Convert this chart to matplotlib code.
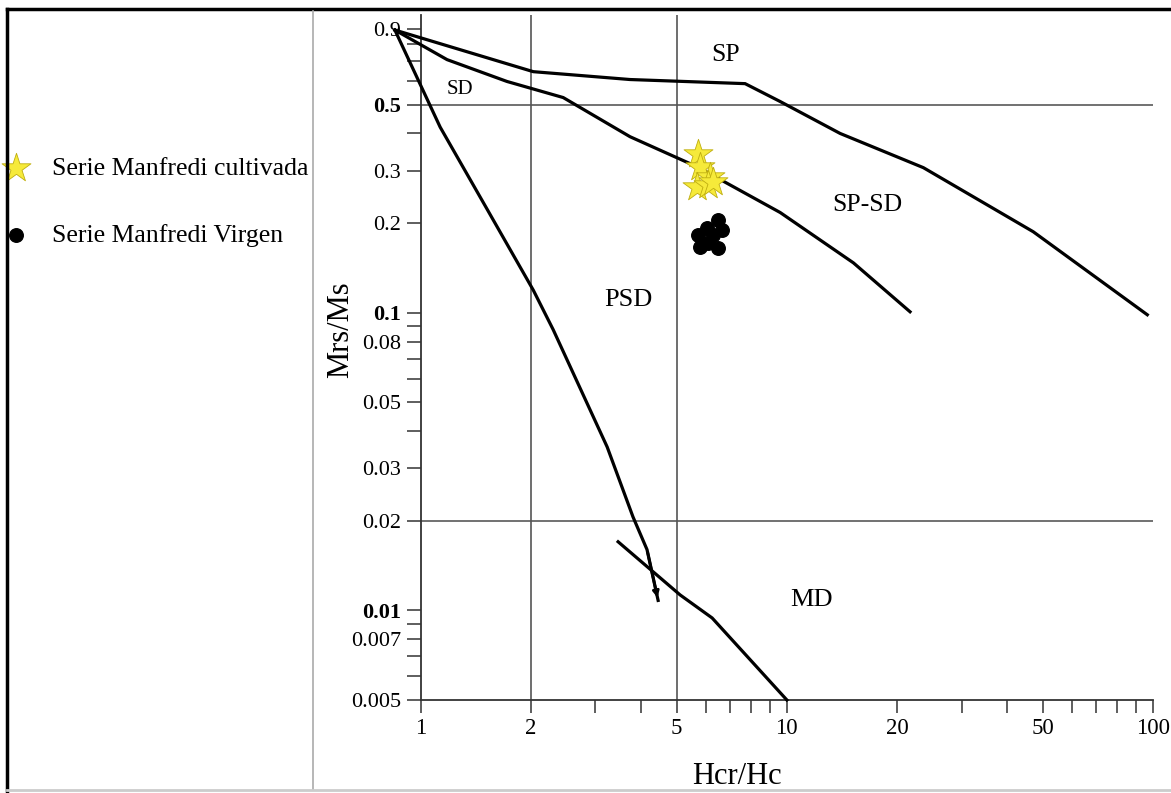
import numpy as np
import matplotlib
matplotlib.use("Agg")
import matplotlib.pyplot as plt
from matplotlib.lines import Line2D

plt.rcParams['font.family'] = ['Liberation Serif', 'DejaVu Serif']

# --- Curvas de los dominios (Hcr/Hc, Mrs/Ms) ---
curva_sd_x = [0.85, 1.13, 1.52, 2.03, 2.30, 3.23, 3.80, 4.15, 4.45]
curva_sd_y = [0.89, 0.42, 0.222, 0.119, 0.0877, 0.0354, 0.0206, 0.0160, 0.0108]

curva_md_x = [3.46, 5.11, 6.25, 10.0]
curva_md_y = [0.0170, 0.01127, 0.00943, 0.005]

curva_spsd_x = [0.85, 1.18, 1.72, 2.45, 3.73, 5.69, 9.59, 15.2, 21.7]
curva_spsd_y = [0.89, 0.708, 0.598, 0.528, 0.39, 0.309, 0.217, 0.147, 0.1007]

curva_sp_x = [0.85, 2.03, 3.73, 7.69, 9.59, 13.98, 23.6, 35.3, 47.1, 96.5]
curva_sp_y = [0.89, 0.645, 0.607, 0.588, 0.512, 0.40, 0.307, 0.23, 0.187, 0.0984]

# --- Muestras ---
cultivada_x = [5.72, 5.80, 6.17, 5.69, 6.10, 6.29]
cultivada_y = [0.34, 0.309, 0.286, 0.265, 0.269, 0.275]

virgen_x = [5.72, 6.06, 6.49, 6.66, 5.80, 6.10, 6.49, 6.29]
virgen_y = [0.183, 0.193, 0.205, 0.19, 0.1667, 0.172, 0.165, 0.182]

# --- Etiquetas de regiones ---
regiones = ["SP", "SD", "SP-SD", "PSD", "MD"]
regiones_x = [6.78, 1.28, 16.6, 3.69, 11.7]
regiones_y = [0.736, 0.56, 0.23, 0.11, 0.0108]
regiones_tam = [18.5, 15, 18.5, 19, 19]

# --- Ejes ---
xticks = [1, 2, 5, 10, 20, 50, 100]
xtick_labels = ["1", "2", "5", "10", "20", "50", "100"]
yticks = [0.9, 0.5, 0.3, 0.2, 0.1, 0.08, 0.05, 0.03, 0.02, 0.01, 0.008, 0.005]
ytick_labels = ["0.9", "0.5", "0.3", "0.2", "0.1", "0.08", "0.05", "0.03", "0.02", "0.01", "0.007", "0.005"]
ytick_negrita = ["0.5", "0.1", "0.01"]
lineas_h = [0.5, 0.02]
lineas_v = [2, 5]

fig = plt.figure(figsize=(11.71, 7.93), dpi=100)
ax = fig.add_axes([0.3593, 0.1173, 0.6253, 0.8638])
ax.set_xscale('log')
ax.set_yscale('log')
ax.set_xlim(1, 100)
ax.set_ylim(0.005, 1.0)

for y in lineas_h:
    ax.axhline(y, color='#666666', lw=1.3, zorder=1)
for x in lineas_v:
    ax.axvline(x, color='#555555', lw=1.2, zorder=1)

# Curvas
for cx, cy in [(curva_sd_x, curva_sd_y), (curva_md_x, curva_md_y),
               (curva_spsd_x, curva_spsd_y), (curva_sp_x, curva_sp_y)]:
    ax.plot(cx, cy, color='black', lw=2.3, clip_on=False, zorder=3,
            solid_joinstyle='miter')
ax.annotate('', xy=(curva_sd_x[-1], curva_sd_y[-1]), xytext=(curva_sd_x[-2], curva_sd_y[-2]),
            arrowprops=dict(arrowstyle='-|>', color='black', lw=2.0, mutation_scale=9),
            zorder=3)

# Muestras
ax.scatter(cultivada_x, cultivada_y, marker='*', s=480, color='#f6ea3a',
           edgecolor='#bfae10', linewidth=0.6, zorder=5, label='Serie Manfredi cultivada')
ax.scatter(virgen_x, virgen_y, marker='o', s=95, color='black', zorder=5,
           label='Serie Manfredi Virgen')

for txt, x, y, t in zip(regiones, regiones_x, regiones_y, regiones_tam):
    ax.text(x, y, txt, ha='center', va='center', fontsize=t, zorder=4)

# Ticks
ax.set_xticks(xticks)
ax.set_xticklabels(xtick_labels, fontsize=16.5)
ax.set_yticks(yticks)
ax.set_yticklabels(ytick_labels, fontsize=16)
for lbl in ax.get_yticklabels():
    if lbl.get_text() in ytick_negrita:
        lbl.set_fontweight('bold')
ax.xaxis.set_minor_locator(matplotlib.ticker.LogLocator(base=10, subs=np.arange(2, 10)))
ax.yaxis.set_minor_locator(matplotlib.ticker.LogLocator(base=10, subs=np.arange(2, 10)))
ax.xaxis.set_minor_formatter(matplotlib.ticker.NullFormatter())
ax.yaxis.set_minor_formatter(matplotlib.ticker.NullFormatter())
ax.tick_params(axis='x', which='both', direction='out', length=9, width=1.1, color='#333333', pad=4)
ax.tick_params(axis='y', which='both', direction='out', length=10, width=1.1, color='#333333', pad=4)

for s in ['top', 'right']:
    ax.spines[s].set_visible(False)
for s in ['left', 'bottom']:
    ax.spines[s].set_color('#333333')
    ax.spines[s].set_linewidth(1.3)

ax.set_xlabel('Hcr/Hc', fontsize=22)
ax.set_ylabel('Mrs/Ms', fontsize=22)
ax.xaxis.set_label_coords(0.432, -0.09)
ax.yaxis.set_label_coords(-0.09, 0.54)

# Leyenda
ax.legend(loc='upper left', bbox_to_anchor=(-0.006, 0.815), bbox_transform=fig.transFigure,
          frameon=False, fontsize=18.5, handlelength=1.0, handletextpad=0.9,
          labelspacing=1.7, borderaxespad=0, scatterpoints=1)

# Marco exterior
fig.add_artist(Line2D([7 / 1171, 1], [1 - 9 / 793, 1 - 9 / 793], color='black', lw=2.5,
                      transform=fig.transFigure))
fig.add_artist(Line2D([7 / 1171, 7 / 1171], [0, 1 - 9 / 793], color='black', lw=2.5,
                      transform=fig.transFigure))
fig.add_artist(Line2D([313 / 1171, 313 / 1171], [3 / 793, 1 - 11 / 793], color='#aaaaaa', lw=1.2,
                      transform=fig.transFigure))
fig.add_artist(Line2D([7 / 1171, 1], [3 / 793, 3 / 793], color='#cccccc', lw=2,
                      transform=fig.transFigure))

fig.savefig('out.png', dpi=100, facecolor='white')
